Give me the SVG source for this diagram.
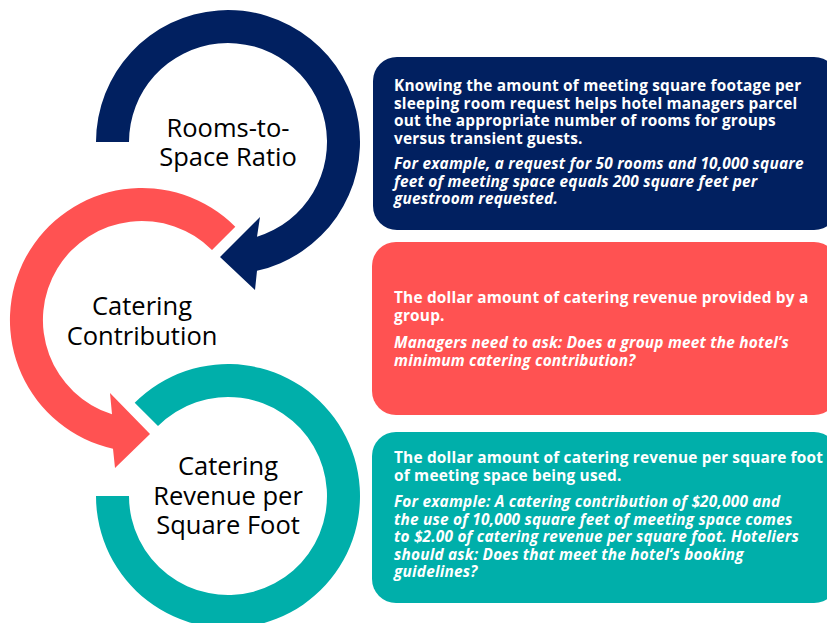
<svg xmlns="http://www.w3.org/2000/svg" width="827" height="623" viewBox="0 0 827 623">
<style>
.lbl{font-family:"Open Sans","Noto Sans","Liberation Sans",sans-serif;font-size:25.5px;fill:#000;text-anchor:middle}
.bt{font-family:"Open Sans","Noto Sans","Liberation Sans",sans-serif;font-size:15.4px;letter-spacing:0.2px;font-weight:bold;fill:#fff}
.it{font-style:italic}
.navy{fill:#012060}
.red{fill:#FF5252}
.teal{fill:#00AFAA}
</style>
<rect width="827" height="623" fill="#fff"/>
<g id="connectors">
<path class="navy" d="M 96 142 A 132 132 0 1 1 257 270.8 L 255 290 L 220 257 L 260 217 L 257 236.7 A 99 99 0 1 0 129 142 Z"/>
<path class="red" d="M 235.3 226.7 A 132 132 0 1 0 113 448.8 L 115 468 L 150 434 L 110 393 L 112 414.3 A 99 99 0 1 1 212 250 Z"/>
<path class="teal" d="M 134.7 402.7 A 132 132 0 1 1 96 496 L 129 496 A 99 99 0 1 0 158 426 Z"/>
</g>
<g id="node-rooms">
<text class="lbl" x="228" y="137">Rooms-to-</text>
<text class="lbl" x="228" y="166">Space Ratio</text>
<rect class="navy" x="373" y="57" width="465" height="173" rx="24"/>
<text class="bt" x="394" y="91">Knowing the amount of meeting square footage per</text>
<text class="bt" x="394" y="108.5">sleeping room request helps hotel managers parcel</text>
<text class="bt" x="394" y="126">out the appropriate number of rooms for groups</text>
<text class="bt" x="394" y="143.5">versus transient guests.</text>
<text class="bt it" x="394" y="169">For example, a request for 50 rooms and 10,000 square</text>
<text class="bt it" x="394" y="186.5">feet of meeting space equals 200 square feet per</text>
<text class="bt it" x="394" y="204">guestroom requested.</text>
</g>
<g id="node-catering">
<text class="lbl" x="142" y="315">Catering</text>
<text class="lbl" x="142" y="345">Contribution</text>
<rect class="red" x="372" y="242" width="466" height="173" rx="24"/>
<text class="bt" x="394" y="303">The dollar amount of catering revenue provided by a</text>
<text class="bt" x="394" y="320.5">group.</text>
<text class="bt it" x="394" y="348">Managers need to ask: Does a group meet the hotel’s</text>
<text class="bt it" x="394" y="365.5">minimum catering contribution?</text>
</g>
<g id="node-revenue">
<text class="lbl" x="228" y="475">Catering</text>
<text class="lbl" x="228" y="505">Revenue per</text>
<text class="lbl" x="228" y="534">Square Foot</text>
<rect class="teal" x="372" y="432" width="466" height="171" rx="24"/>
<text class="bt" x="394" y="463">The dollar amount of catering revenue per square foot</text>
<text class="bt" x="394" y="480.5">of meeting space being used.</text>
<text class="bt it" x="394" y="507">For example: A catering contribution of $20,000 and</text>
<text class="bt it" x="394" y="524.5">the use of 10,000 square feet of meeting space comes</text>
<text class="bt it" x="394" y="542">to $2.00 of catering revenue per square foot. Hoteliers</text>
<text class="bt it" x="394" y="559.5">should ask: Does that meet the hotel’s booking</text>
<text class="bt it" x="394" y="577">guidelines?</text>
</g>
</svg>
